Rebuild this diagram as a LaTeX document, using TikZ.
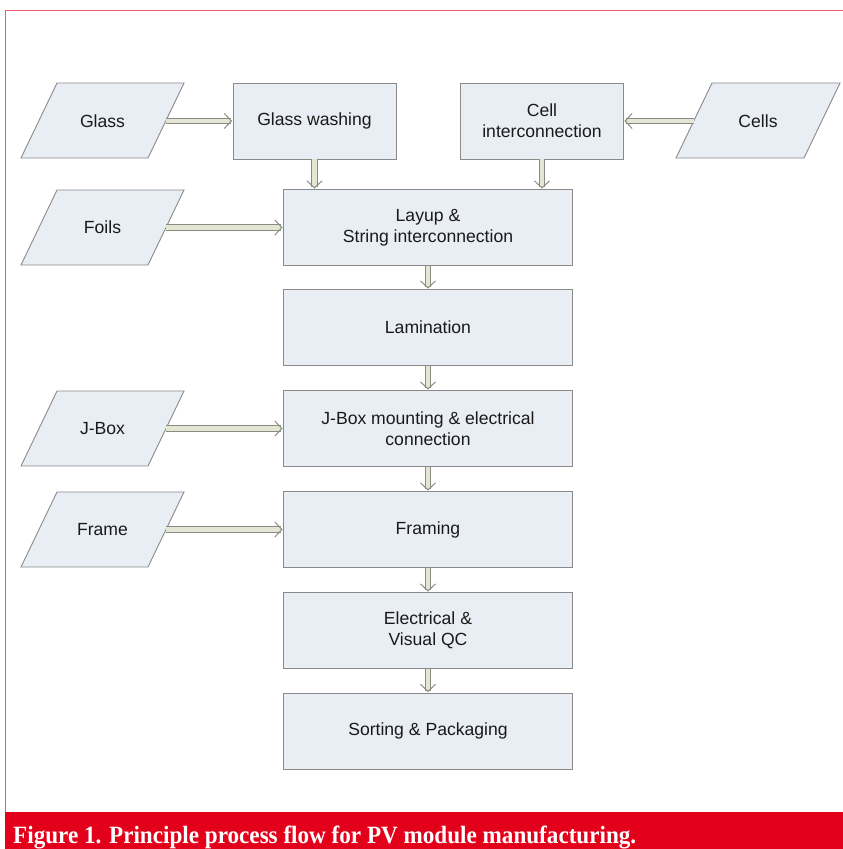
\documentclass[tikz,border=0pt]{standalone}
\usepackage{fontspec}
\setmainfont{Liberation Sans}
\newfontfamily\capfont{Liberation Serif}
\usetikzlibrary{arrows.meta}
\definecolor{boxfill}{HTML}{E9EEF4}
\definecolor{boxline}{HTML}{8A8A8A}
\definecolor{txt}{HTML}{1A1A1A}
\definecolor{flowin}{HTML}{E2E6D2}
\definecolor{flowout}{HTML}{8A8C84}
\definecolor{capred}{HTML}{E2001A}
\definecolor{framered}{HTML}{EE5A70}
\tikzset{
  procbox/.style={draw=boxline, line width=0.9pt, fill=boxfill, text=txt, align=center,
    font=\fontsize{17.6}{21}\selectfont, inner sep=0pt},
  mainbox/.style={procbox, minimum width=289pt, minimum height=76pt},
  topbox/.style={procbox, minimum width=163pt, minimum height=76pt},
  para/.style={draw=boxline, line width=0.9pt, fill=boxfill},
  paratext/.style={text=txt, font=\fontsize{17.6}{21}\selectfont, inner sep=0pt},
  flow/.style={draw=flowout, line width=1pt, double=flowin, double distance=4.6pt,
    -{Straight Barb[length=7pt, width=15pt]}, shorten >=0.5pt}
}
\begin{document}
\begin{tikzpicture}[x=1pt, y=-1pt]
\useasboundingbox (0,0) rectangle (843,849);
\fill[white] (0,0) rectangle (843,849);
% frame
\draw[framered, line width=1pt] (5,812) -- (5,10.5) -- (843,10.5);
\fill[capred] (5,812) rectangle (843,849);
\node[anchor=base west, text=white, inner sep=0pt] (cap) at (13,843)
  {\resizebox{623pt}{17.5pt}{\capfont\bfseries Figure 1. Principle process flow for PV module manufacturing.}};

% input parallelograms
\draw[para] (21,158) -- (57,83) -- (184,83) -- (148,158) -- cycle;
\node[paratext] (glass) at (102.5,121) {Glass};
\coordinate (glassE) at (166,121);

\draw[para] (21,265) -- (57,190) -- (184,190) -- (148,265) -- cycle;
\node[paratext] (foils) at (102.5,227.5) {Foils};
\coordinate (foilsE) at (166,227.5);

\draw[para] (21,466) -- (57,391) -- (184,391) -- (148,466) -- cycle;
\node[paratext] (jbox) at (102.5,428.5) {J-Box};
\coordinate (jboxE) at (166,428.5);

\draw[para] (21,567) -- (57,492) -- (184,492) -- (148,567) -- cycle;
\node[paratext] (frame) at (102.5,529.5) {Frame};
\coordinate (frameE) at (166,529.5);

\draw[para] (676,158) -- (712,83) -- (840,83) -- (804,158) -- cycle;
\node[paratext] (cells) at (758,121) {Cells};
\coordinate (cellsW) at (694,121);

% process boxes
\node[topbox] (wash) at (314.5,121) {Glass washing};
\node[topbox] (cellint) at (542,121) {Cell\\interconnection};
\node[mainbox] (layup) at (428,227.5) {Layup \&\\String interconnection};
\node[mainbox] (lam) at (428,327.5) {Lamination};
\node[mainbox] (jmount) at (428,428.5) {J-Box mounting \& electrical\\connection};
\node[mainbox] (framing) at (428,529.5) {Framing};
\node[mainbox] (qc) at (428,630.5) {Electrical \&\\Visual QC};
\node[mainbox] (sort) at (428,731) {Sorting \& Packaging};

% connectors
\draw[flow] (glassE) -- (wash.west);
\draw[flow] (cellsW) -- (cellint.east);
\draw[flow] (foilsE) -- (layup.west);
\draw[flow] (jboxE) -- (jmount.west);
\draw[flow] (frameE) -- (framing.west);
\draw[flow] (wash.south) -- (wash.south |- layup.north);
\draw[flow] (cellint.south) -- (cellint.south |- layup.north);
\draw[flow] (layup.south) -- (lam.north);
\draw[flow] (lam.south) -- (jmount.north);
\draw[flow] (jmount.south) -- (framing.north);
\draw[flow] (framing.south) -- (qc.north);
\draw[flow] (qc.south) -- (sort.north);
\end{tikzpicture}
\end{document}
